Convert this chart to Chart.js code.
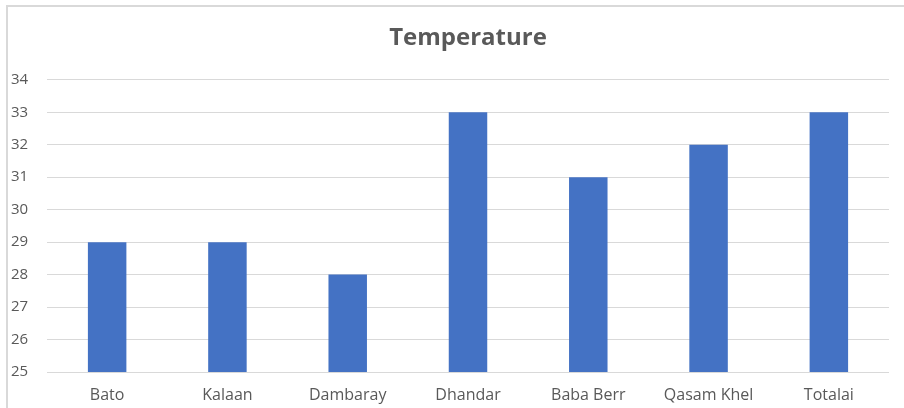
<!DOCTYPE html>
<html lang="en">
<head>
    <meta charset="UTF-8">
    <title>Temperature</title>
    <script src="https://cdn.jsdelivr.net/npm/chart.js"></script>
    <style>
        html, body { margin: 0; padding: 0; background: #fff; }
        .frame {
            position: absolute;
            left: 6px; top: 5px;
            width: 920px; height: 420px;
            border-left: 2px solid #d9d9d9;
            border-top: 2px solid #d9d9d9;
        }
        .wrap { position: absolute; left: 0; top: 0; width: 904px; height: 408px; }
    </style>
</head>
<body>
    <div class="frame"></div>
    <div class="wrap"><canvas id="tempChart" width="904" height="408"></canvas></div>

    <script>
        // Data
        const places = ['Bato', 'Kalaan', 'Dambaray', 'Dhandar', 'Baba Berr', 'Qasam Khel', 'Totalai'];
        const temperature = [29, 29, 28, 33, 31, 32, 33];
        const yMin = 25;
        const yMax = 34;

        const textColor = '#595959';
        const fontFamily = "'Open Sans', 'Liberation Sans', sans-serif";

        const ctx = document.getElementById('tempChart').getContext('2d');
        new Chart(ctx, {
            type: 'bar',
            data: {
                labels: places,
                datasets: [{
                    label: 'Temperature',
                    data: temperature,
                    backgroundColor: '#4472c4',
                    categoryPercentage: 1,
                    barPercentage: 0.32
                }]
            },
            options: {
                responsive: false,
                animation: false,
                layout: { padding: { left: 11, right: 15, top: 0, bottom: 0 } },
                plugins: {
                    legend: { display: false },
                    tooltip: { enabled: false },
                    title: {
                        display: true,
                        fullSize: false,
                        text: 'Temperature',
                        color: textColor,
                        font: { family: fontFamily, size: 24, weight: 'bold' },
                        padding: { top: 24, bottom: 27 }
                    }
                },
                scales: {
                    x: {
                        afterFit: (axis) => { axis.height = 36; },
                        grid: { display: false, drawTicks: false },
                        border: { display: false },
                        ticks: {
                            color: textColor,
                            font: { family: fontFamily, size: 16, lineHeight: 1 },
                            padding: 15
                        }
                    },
                    y: {
                        min: yMin,
                        max: yMax,
                        afterFit: (axis) => { axis.width = 36; },
                        grid: { color: '#d9d9d9', drawTicks: false },
                        border: { display: false },
                        ticks: {
                            stepSize: 1,
                            color: textColor,
                            crossAlign: 'far',
                            padding: 8,
                            font: { family: fontFamily, size: 15 }
                        }
                    }
                }
            }
        });
    </script>
</body>
</html>
